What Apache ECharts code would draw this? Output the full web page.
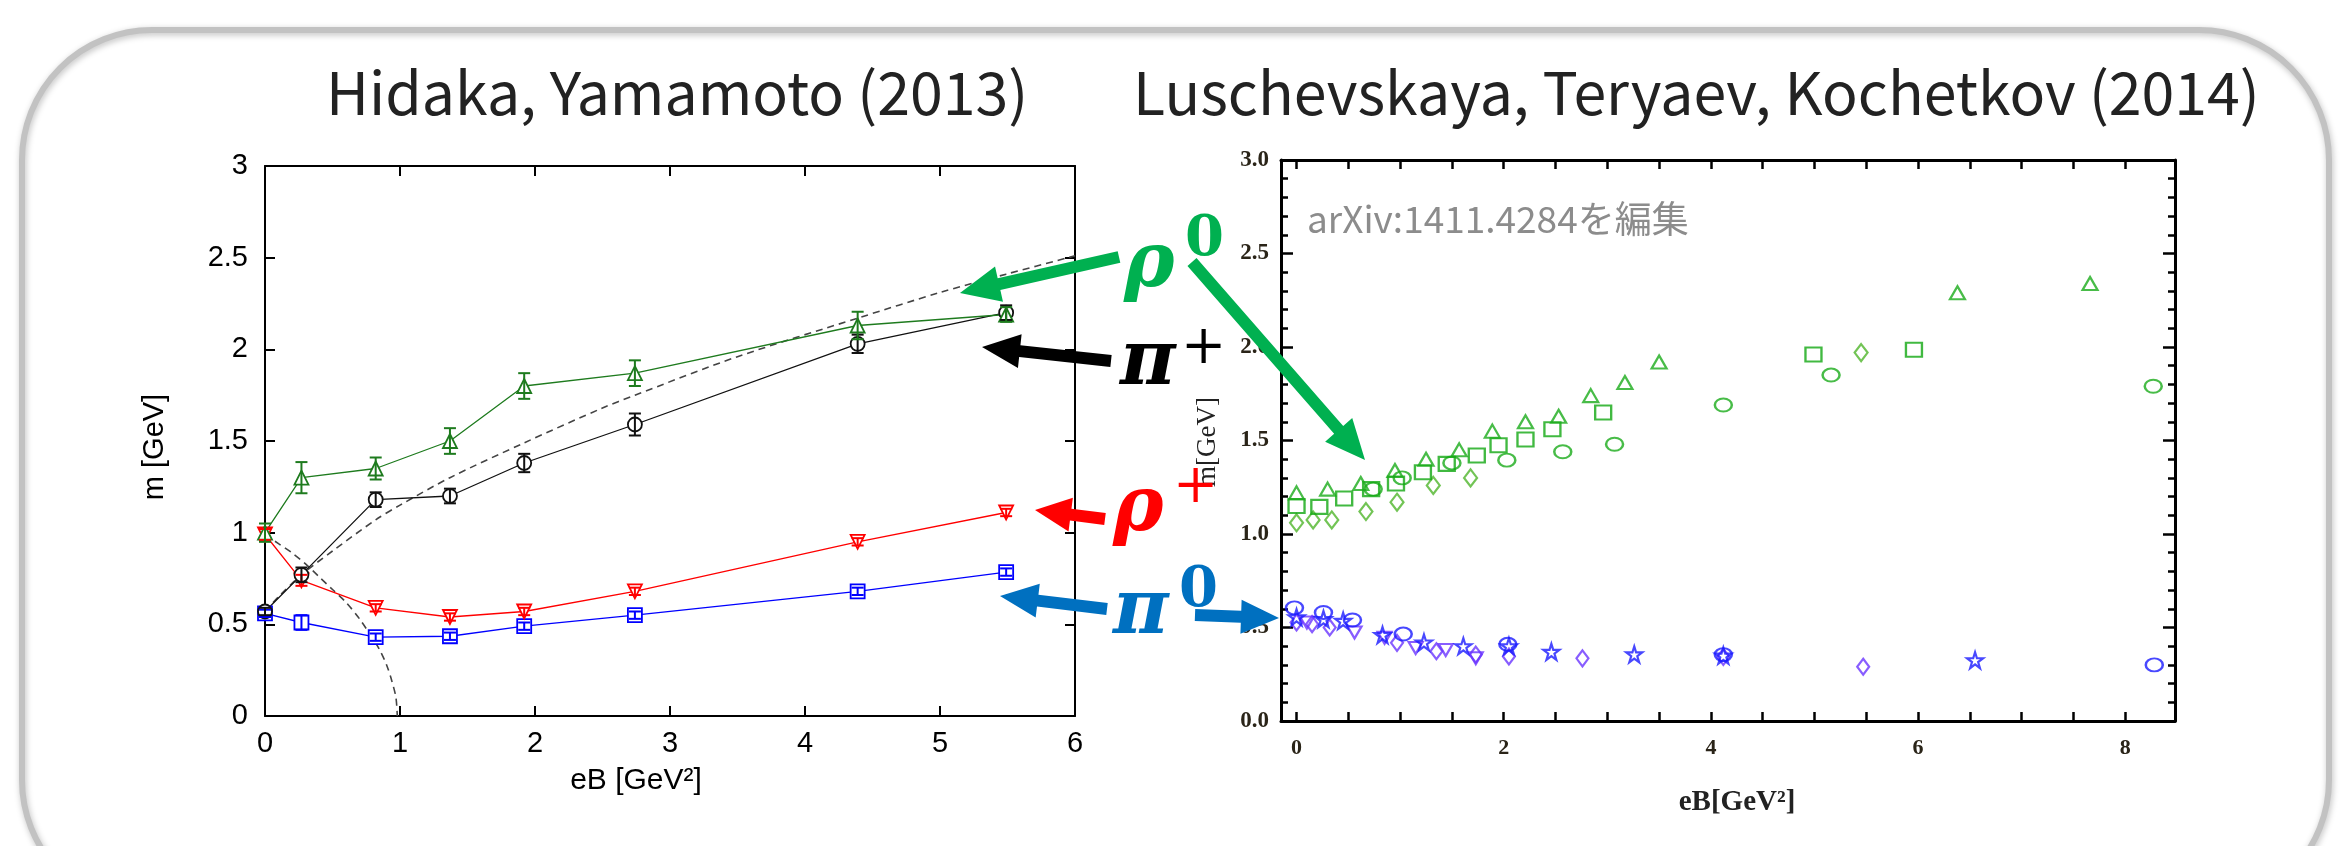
<!DOCTYPE html>
<html><head><meta charset="utf-8">
<script src="https://cdn.jsdelivr.net/npm/echarts@6/dist/echarts.min.js"></script>
<style>html,body{margin:0;padding:0;background:#fff;}#c{width:2347px;height:846px;}</style>
</head><body><div id="c"></div>
<script>
// ---------- Left panel: Hidaka, Yamamoto (2013) ----------
var leftX      = [0, 0.27, 0.82, 1.37, 1.92, 2.74, 4.39, 5.49];
var rho0Y      = [1.00, 1.30, 1.35, 1.50, 1.80, 1.87, 2.13, 2.19];
var rho0Err    = [0.05, 0.085, 0.06, 0.07, 0.07, 0.07, 0.075, 0.04];
var piPlusY    = [0.57, 0.77, 1.18, 1.20, 1.38, 1.59, 2.03, 2.20];
var piPlusErr  = [0.02, 0.04, 0.04, 0.04, 0.05, 0.06, 0.05, 0.04];
var rhoPlusY   = [0.99, 0.74, 0.59, 0.54, 0.57, 0.68, 0.95, 1.11];
var rhoPlusErr = [0.03, 0.03, 0.02, 0.02, 0.02, 0.02, 0.02, 0.02];
var pi0Y       = [0.56, 0.51, 0.43, 0.435, 0.49, 0.55, 0.68, 0.785];
var pi0Err     = [0.02, 0.04, 0.02, 0.02, 0.02, 0.02, 0.02, 0.02];
var dashUpX    = [0, 0.1, 0.27, 0.5, 0.82, 1.0, 1.37, 1.92, 2.5, 2.74, 3.5, 4.39, 5.0, 5.49, 6.0];
var dashUpY    = [0.57, 0.65, 0.77, 0.90, 1.07, 1.15, 1.30, 1.49, 1.68, 1.75, 1.96, 2.17, 2.31, 2.41, 2.51];
var dashDownX  = [0, 0.1, 0.2, 0.3, 0.4, 0.5, 0.6, 0.7, 0.8, 0.85, 0.9, 0.94, 0.97, 0.98];
var dashDownY  = [0.99, 0.94, 0.89, 0.83, 0.76, 0.69, 0.62, 0.53, 0.42, 0.36, 0.28, 0.19, 0.10, 0.0];

// ---------- Right panel: Luschevskaya, Teryaev, Kochetkov (2014) ----------
var gTriX  = [0, 0.3, 0.62, 0.95, 1.25, 1.57, 1.89, 2.21, 2.53, 2.84, 3.17, 3.5, 6.38, 7.66];
var gTriY  = [1.22, 1.24, 1.27, 1.34, 1.40, 1.45, 1.55, 1.60, 1.63, 1.74, 1.81, 1.92, 2.29, 2.34];
var gSqX   = [0, 0.22, 0.46, 0.72, 0.96, 1.22, 1.45, 1.74, 1.95, 2.21, 2.47, 2.96, 4.99, 5.96];
var gSqY   = [1.15, 1.145, 1.19, 1.24, 1.27, 1.33, 1.375, 1.42, 1.475, 1.505, 1.56, 1.65, 1.96, 1.985];
var gCircX = [0.74, 1.02, 1.5, 2.03, 2.57, 3.07, 4.12, 5.16, 8.27];
var gCircY = [1.24, 1.30, 1.38, 1.395, 1.44, 1.48, 1.69, 1.85, 1.79];
var gDiaX  = [0, 0.16, 0.34, 0.67, 0.97, 1.32, 1.68, 5.45];
var gDiaY  = [1.06, 1.075, 1.075, 1.12, 1.17, 1.26, 1.30, 1.97];
var bCircX = [-0.02, 0.26, 0.54, 1.03, 2.04, 4.12, 8.28];
var bCircY = [0.605, 0.58, 0.54, 0.465, 0.41, 0.355, 0.30];
var bStarX = [0, 0.26, 0.45, 0.83, 1.23, 1.61, 2.05, 2.46, 3.26, 4.12, 6.55];
var bStarY = [0.555, 0.545, 0.536, 0.46, 0.42, 0.40, 0.40, 0.37, 0.356, 0.35, 0.325];
var bDiaX  = [0, 0.15, 0.32, 0.97, 1.35, 1.73, 2.05, 2.76, 4.12, 5.47];
var bDiaY  = [0.527, 0.518, 0.50, 0.418, 0.373, 0.355, 0.345, 0.335, 0.343, 0.29];
var bTriX  = [0.1, 0.56, 0.85, 1.15, 1.44, 1.73];
var bTriY  = [0.527, 0.473, 0.445, 0.39, 0.38, 0.336];
var rightXTicks  = [0, 0.5, 1, 1.5, 2, 2.5, 3, 3.5, 4, 4.5, 5, 5.5, 6, 6.5, 7, 7.5, 8];
var rightXLabels = [0, 2, 4, 6, 8];

function pairs(xs, ys) { return xs.map(function (x, i) { return [x, ys[i]]; }); }
function triples(xs, ys, es) { return xs.map(function (x, i) { return [x, ys[i], es[i]]; }); }

var C_G = '#1e7b1e', C_K = '#111111', C_R = '#ff0000', C_B = '#0000ff';

function errSeries(color, ys, es) {
  return {
    type: 'custom', xAxisIndex: 0, yAxisIndex: 0, z: 5,
    dimensions: ['x', 'y', 'e'], encode: { x: 0, y: 1 },
    data: triples(leftX, ys, es),
    renderItem: function (params, api) {
      var x = api.value(0), y = api.value(1), e = api.value(2);
      var t = api.coord([x, y + e]), b = api.coord([x, y - e]);
      var w = 6, st = { stroke: color, lineWidth: 2 };
      return { type: 'group', children: [
        { type: 'line', shape: { x1: t[0], y1: t[1], x2: b[0], y2: b[1] }, style: st },
        { type: 'line', shape: { x1: t[0] - w, y1: t[1], x2: t[0] + w, y2: t[1] }, style: st },
        { type: 'line', shape: { x1: b[0] - w, y1: b[1], x2: b[0] + w, y2: b[1] }, style: st }
      ]};
    }
  };
}
function lineSeries(color, ys, symbol, rot) {
  return {
    type: 'line', xAxisIndex: 0, yAxisIndex: 0, z: 4,
    data: pairs(leftX, ys), symbol: symbol, symbolSize: 14, symbolRotate: rot || 0,
    showSymbol: true, showAllSymbol: true,
    itemStyle: { color: '#fff', borderColor: color, borderWidth: 1.8 },
    lineStyle: { color: color, width: 1.3 }, emphasis: { disabled: true }
  };
}
var STAR = 'path://M50,2 L61,36 L97,36 L68,57 L79,92 L50,71 L21,92 L32,57 L3,36 L39,36 Z';
function scat(xs, ys, symbol, size, color, rot) {
  return {
    type: 'scatter', xAxisIndex: 2, yAxisIndex: 2, z: 4,
    data: pairs(xs, ys), symbol: symbol, symbolSize: size, symbolRotate: rot || 0,
    itemStyle: { color: 'rgba(0,0,0,0)', borderColor: color, borderWidth: 2.2 },
    emphasis: { disabled: true }
  };
}

function arrow(x1, y1, x2, y2, color, sw, hw, hl) {
  var dx = x2 - x1, dy = y2 - y1, L = Math.sqrt(dx * dx + dy * dy);
  var ux = dx / L, uy = dy / L, px = -uy, py = ux;
  var bx = x2 - ux * hl, by = y2 - uy * hl;
  var pts = [
    [x1 + px * sw / 2, y1 + py * sw / 2],
    [bx + px * sw / 2, by + py * sw / 2],
    [bx + px * hw / 2, by + py * hw / 2],
    [x2, y2],
    [bx - px * hw / 2, by - py * hw / 2],
    [bx - px * sw / 2, by - py * sw / 2],
    [x1 - px * sw / 2, y1 - py * sw / 2]
  ];
  return { type: 'polygon', shape: { points: pts }, style: { fill: color }, z: 50 };
}
function txt(x, y, s, font, color, align, vAlign, rot) {
  return { type: 'text', x: x, y: y, rotation: rot || 0, z: 50,
    style: { text: s, font: font, fill: color, align: align || 'left', verticalAlign: vAlign || 'middle' } };
}

var GFONT = '"DejaVu Serif", serif';
var SANS = '"Liberation Sans", Arial, sans-serif';
var chart = echarts.init(document.getElementById('c'));
chart.setOption({
  animation: false,
  backgroundColor: '#fff',
  grid: [
    { left: 265, top: 166, width: 810, height: 550 },
    { left: 1281, top: 160, width: 894, height: 561 }
  ],
  xAxis: [
    { gridIndex: 0, type: 'value', min: 0, max: 6, interval: 1, position: 'bottom',
      axisLine: { onZero: false, lineStyle: { color: '#000', width: 2 } },
      axisTick: { inside: true, length: 10, lineStyle: { color: '#000', width: 2 } },
      axisLabel: { fontFamily: SANS, fontSize: 29, color: '#000', margin: 13 },
      splitLine: { show: false } },
    { gridIndex: 0, type: 'value', min: 0, max: 6, interval: 1, position: 'top',
      axisLine: { onZero: false, lineStyle: { color: '#000', width: 2 } },
      axisTick: { inside: true, length: 10, lineStyle: { color: '#000', width: 2 } },
      axisLabel: { show: false }, splitLine: { show: false } },
    { gridIndex: 1, type: 'value', min: -0.15, max: 8.48, position: 'bottom',
      axisLine: { onZero: false, lineStyle: { color: '#000', width: 3 } },
      axisTick: { inside: true, length: 9, customValues: rightXTicks, lineStyle: { color: '#000', width: 2.5 } },
      axisLabel: { customValues: rightXLabels, fontFamily: '"Liberation Serif", serif', fontWeight: 'bold', fontSize: 22, color: '#2a2418', margin: 16 },
      splitLine: { show: false } },
    { gridIndex: 1, type: 'value', min: -0.15, max: 8.48, position: 'top',
      axisLine: { onZero: false, lineStyle: { color: '#000', width: 3 } },
      axisTick: { inside: true, length: 9, customValues: rightXTicks, lineStyle: { color: '#000', width: 2.5 } },
      axisLabel: { show: false }, splitLine: { show: false } }
  ],
  yAxis: [
    { gridIndex: 0, type: 'value', min: 0, max: 3, interval: 0.5, position: 'left',
      axisLine: { onZero: false, lineStyle: { color: '#000', width: 2 } },
      axisTick: { inside: true, length: 10, lineStyle: { color: '#000', width: 2 } },
      axisLabel: { fontFamily: SANS, fontSize: 29, color: '#000', margin: 17 },
      splitLine: { show: false } },
    { gridIndex: 0, type: 'value', min: 0, max: 3, interval: 0.5, position: 'right',
      axisLine: { onZero: false, lineStyle: { color: '#000', width: 2 } },
      axisTick: { inside: true, length: 10, lineStyle: { color: '#000', width: 2 } },
      axisLabel: { show: false }, splitLine: { show: false } },
    { gridIndex: 1, type: 'value', min: 0, max: 3, interval: 0.5, position: 'left',
      axisLine: { onZero: false, lineStyle: { color: '#000', width: 3 } },
      axisTick: { inside: true, length: 12, lineStyle: { color: '#000', width: 2.5 } },
      minorTick: { show: true, splitNumber: 5, length: 7, lineStyle: { color: '#000', width: 2.5 } },
      axisLabel: { fontFamily: '"Liberation Serif", serif', fontWeight: 'bold', fontSize: 23, color: '#2a2418', margin: 12,
        formatter: function (v) { return v.toFixed(1); } },
      splitLine: { show: false }, minorSplitLine: { show: false } },
    { gridIndex: 1, type: 'value', min: 0, max: 3, interval: 0.5, position: 'right',
      axisLine: { onZero: false, lineStyle: { color: '#000', width: 3 } },
      axisTick: { inside: true, length: 12, lineStyle: { color: '#000', width: 2.5 } },
      minorTick: { show: true, splitNumber: 5, length: 7, lineStyle: { color: '#000', width: 2.5 } },
      axisLabel: { show: false }, splitLine: { show: false }, minorSplitLine: { show: false } }
  ],
  series: [
    { type: 'line', xAxisIndex: 0, yAxisIndex: 0, z: 3, data: pairs(dashUpX, dashUpY), smooth: 0.3,
      symbol: 'none', lineStyle: { color: '#444', width: 1.6, type: [7, 5] } },
    { type: 'line', xAxisIndex: 0, yAxisIndex: 0, z: 3, data: pairs(dashDownX, dashDownY), smooth: 0.3,
      symbol: 'none', lineStyle: { color: '#444', width: 1.6, type: [7, 5] } },
    lineSeries(C_B, pi0Y, 'rect'),
    lineSeries(C_R, rhoPlusY, 'triangle', 180),
    lineSeries(C_K, piPlusY, 'circle'),
    lineSeries(C_G, rho0Y, 'triangle'),
    errSeries(C_B, pi0Y, pi0Err),
    errSeries(C_R, rhoPlusY, rhoPlusErr),
    errSeries(C_K, piPlusY, piPlusErr),
    errSeries(C_G, rho0Y, rho0Err),
    scat(gDiaX, gDiaY, 'diamond', [13, 17], '#4fb52a'),
    scat(gCircX, gCircY, 'circle', [17, 13], '#1aab1a'),
    scat(gSqX, gSqY, 'rect', [16, 14], '#12a812'),
    scat(gTriX, gTriY, 'triangle', [15, 13], '#1aab1a'),
    scat(bDiaX, bDiaY, 'diamond', [12, 16], '#6a35ff'),
    scat(bTriX, bTriY, 'triangle', [14, 12], '#6a35ff', 180),
    scat(bCircX, bCircY, 'circle', [17, 13], '#1a1aff'),
    scat(bStarX, bStarY, STAR, 16, '#1a1aff')
  ],
  graphic: [
    { type: 'rect', z: 1, shape: { x: 22, y: 30, width: 2307, height: 880, r: 130 },
      style: { fill: 'none', stroke: '#c2c2c2', lineWidth: 6, shadowBlur: 6, shadowColor: 'rgba(0,0,0,0.25)', shadowOffsetX: 1, shadowOffsetY: 2 } },
    txt(326, 93, 'Hidaka, Yamamoto (2013)', '400 59px "Noto Sans CJK JP", sans-serif', '#222'),
    txt(1133, 93, 'Luschevskaya, Teryaev, Kochetkov (2014)', '400 59px "Noto Sans CJK JP", sans-serif', '#222'),
    txt(155, 447, 'm [GeV]', '29px ' + SANS, '#000', 'center', 'middle', Math.PI / 2),
    txt(636, 781, 'eB [GeV²]', '30px ' + SANS, '#000', 'center', 'middle'),
    txt(1208, 442, 'm[GeV]', '27px "Liberation Serif", serif', '#222', 'center', 'middle', Math.PI / 2),
    txt(1737, 803, 'eB[GeV²]', 'bold 29px "Liberation Serif", serif', '#222', 'center', 'middle'),
    txt(1307, 219, 'arXiv:1411.4284を編集', '37px "Noto Sans CJK JP", sans-serif', '#8c8c8c', 'left', 'middle'),
    arrow(1119, 257, 960, 293, '#00b050', 12, 36, 40),
    arrow(1192, 262, 1365, 460, '#00b050', 12, 36, 40),
    arrow(1111, 361, 982, 347, '#000000', 12, 34, 38),
    arrow(1105, 519, 1035, 510, '#ff0000', 12, 34, 36),
    arrow(1107, 609, 1000, 596, '#0070c0', 12, 34, 38),
    arrow(1195, 615, 1279, 618, '#0070c0', 12, 34, 38),
    txt(1124, 228, 'ρ', 'italic bold 76px ' + GFONT, '#00b050', 'left', 'top'),
    txt(1185, 212, '0', 'bold 56px ' + GFONT, '#00b050', 'left', 'top'),
    txt(1120, 326, 'π', 'italic bold 76px ' + GFONT, '#000000', 'left', 'top'),
    txt(1181, 322, '+', '54px ' + GFONT, '#000000', 'left', 'top'),
    txt(1113, 472, 'ρ', 'italic bold 76px ' + GFONT, '#ff0000', 'left', 'top'),
    txt(1173, 461, '+', '54px ' + GFONT, '#ff0000', 'left', 'top'),
    txt(1113, 575, 'π', 'italic bold 76px ' + GFONT, '#0070c0', 'left', 'top'),
    txt(1179, 563, '0', 'bold 56px ' + GFONT, '#0070c0', 'left', 'top')
  ]
});
</script></body></html>
